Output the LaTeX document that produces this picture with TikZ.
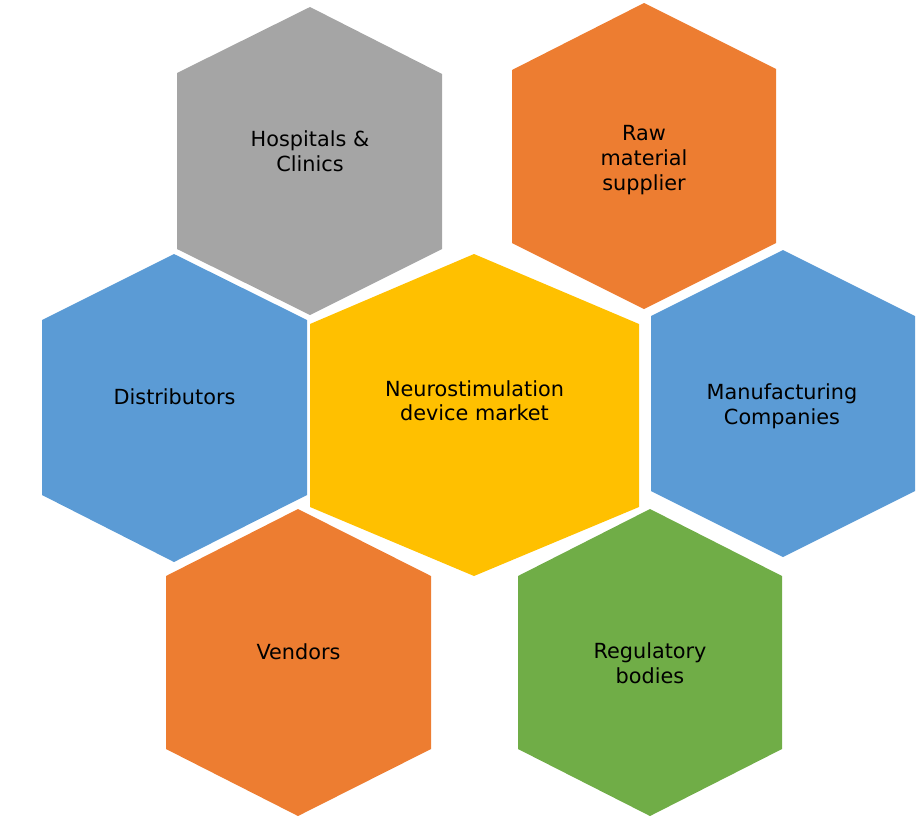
\documentclass[tikz,border=0pt]{standalone}
\usepackage{fontspec}
\setmainfont{DejaVu Sans}
\definecolor{hgray}{HTML}{A5A5A5}
\definecolor{horange}{HTML}{ED7D31}
\definecolor{hblue}{HTML}{5B9BD5}
\definecolor{hyellow}{HTML}{FFC000}
\definecolor{hgreen}{HTML}{70AD47}
\begin{document}
\begin{tikzpicture}[x=1pt,y=-1pt,
  lbl/.style={anchor=base,align=center,font=\fontsize{20.8}{25}\selectfont,inner sep=0pt,text=black},
  hexfill/.style={fill=#1,draw=none}]
\useasboundingbox (0,0) rectangle (917,820);
% hexagons
\path[hexfill=hgray]   (310,7) -- (442,74) -- (442,249) -- (310,315) -- (177,249) -- (177,73) -- cycle;
\path[hexfill=horange] (644,3) -- (776,69) -- (776,243) -- (644,309) -- (512,243) -- (512,70) -- cycle;
\path[hexfill=hblue]   (174,254) -- (307,320) -- (307,495) -- (174,562) -- (42,495) -- (42,320) -- cycle;
\path[hexfill=hyellow] (474,254) -- (639,324) -- (639,507) -- (474,576) -- (310,507) -- (310,324) -- cycle;
\path[hexfill=hblue]   (783,250) -- (915,316) -- (915,491) -- (783,557) -- (651,491) -- (651,316) -- cycle;
\path[hexfill=horange] (298,509) -- (431,576) -- (431,749) -- (298,816) -- (166,749) -- (166,576) -- cycle;
\path[hexfill=hgreen]  (650,509) -- (782,576) -- (782,749) -- (650,816) -- (518,749) -- (518,576) -- cycle;
% labels (base anchor = baseline of the last line)
\node[lbl] (hosp) at (310,171) {Hospitals \&\\Clinics};
\node[lbl] (raw)  at (644,190) {Raw\\material\\supplier};
\node[lbl] (dist) at (174.5,404) {Distributors};
\node[lbl,font=\fontsize{20.8}{24}\selectfont] (core) at (474.5,420) {Neurostimulation\\device market};
\node[lbl] (manu) at (782,424) {Manufacturing\\Companies};
\node[lbl] (vend) at (298.5,659) {Vendors};
\node[lbl] (regu) at (650,683) {Regulatory\\bodies};
\end{tikzpicture}
\end{document}
